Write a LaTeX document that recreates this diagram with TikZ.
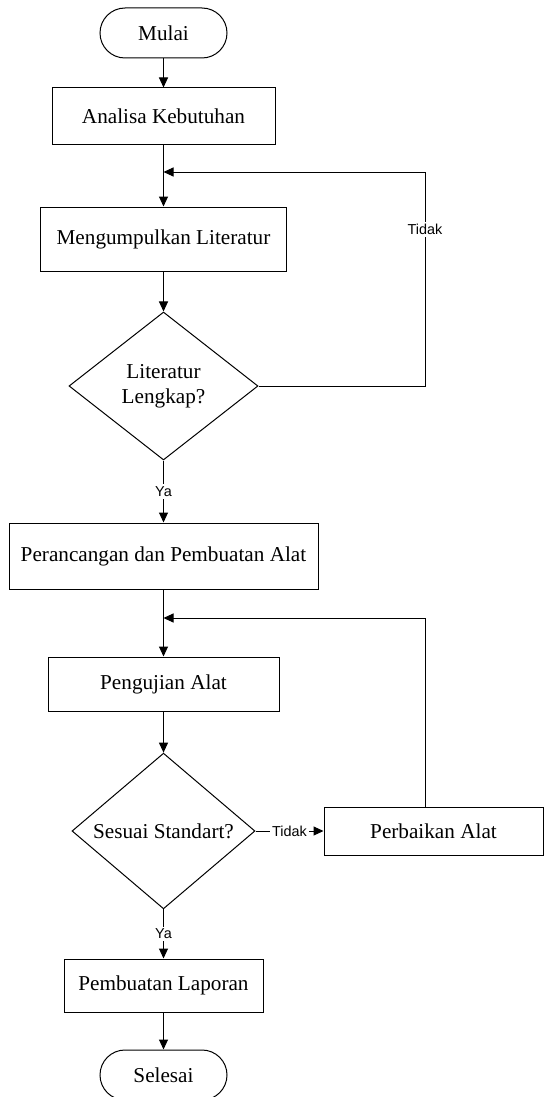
\documentclass[tikz,border=0pt]{standalone}
\usepackage{fontspec}
\setmainfont{Liberation Serif}
\setsansfont{Liberation Sans}
\usetikzlibrary{shapes.geometric,arrows.meta}
\begin{document}
\begin{tikzpicture}[x=0.5pt,y=-0.5pt,
    line width=0.5pt,
    every node/.style={font=\fontsize{10.6}{12.6}\selectfont},
    terminal/.style={draw, rectangle, rounded corners=12.5pt, minimum width=63.5pt, minimum height=25pt},
    process/.style={draw, rectangle, align=center},
    decision/.style={draw, diamond, inner sep=0pt, align=center},
    arr/.style={-{Triangle[length=5pt,width=4.5pt]}},
    lbl/.style={font=\sffamily\fontsize{7.2}{8}\selectfont, fill=white, inner sep=1pt}]
\useasboundingbox (0,0) rectangle (544,1097);
% main column
\node[terminal] (mulai) at (163.5,33) {Mulai};
\node[process, minimum width=111.5pt, minimum height=28pt] (analisa) at (163.5,116) {Analisa Kebutuhan};
\coordinate (m1) at (163.5,172);
\node[process, minimum width=123pt, minimum height=32pt] (kumpul) at (163.5,239) {Mengumpulkan Literatur};
\node[decision, minimum width=94.5pt, minimum height=74pt] (lengkap) at (163.5,386) {Literatur\\Lengkap?};
\node[process, minimum width=154.5pt, minimum height=33pt] (rancang) at (163.5,556) {Perancangan dan Pembuatan Alat};
\coordinate (m2) at (163.5,618);
\node[process, minimum width=115.5pt, minimum height=27pt] (uji) at (163.5,684) {Pengujian Alat};
\node[decision, minimum width=91.5pt, minimum height=71pt] (standar) at (163.5,831) {Sesuai Standart?};
\node[process, minimum width=109.5pt, minimum height=24pt] (perbaikan) at (433.5,831) {Perbaikan Alat};
\node[process, minimum width=99.5pt, minimum height=26.5pt] (laporan) at (163.5,985.5) {Pembuatan Laporan};
\node[terminal] (selesai) at (163.5,1075) {Selesai};
\coordinate (loop) at (425,0);
% connectors
\draw[arr] (mulai) -- (analisa);
\draw (analisa) -- (m1);
\draw[arr] (m1) -- (kumpul);
\draw[arr] (kumpul) -- (lengkap);
\draw[arr] (lengkap.east) -- (lengkap.east -| loop) -- node[lbl, pos=0.73] {Tidak} (m1 -| loop) -- (m1);
\draw[arr] (lengkap.south) -- node[lbl] {Ya} (rancang.north);
\draw (rancang) -- (m2);
\draw[arr] (m2) -- (uji);
\draw[arr] (uji) -- (standar);
\draw[arr] (standar.east) -- node[lbl] {Tidak} (perbaikan.west);
\draw[arr] (perbaikan.north -| loop) -- (m2 -| loop) -- (m2);
\draw[arr] (standar.south) -- node[lbl] {Ya} (laporan.north);
\draw[arr] (laporan) -- (selesai);
\end{tikzpicture}
\end{document}
